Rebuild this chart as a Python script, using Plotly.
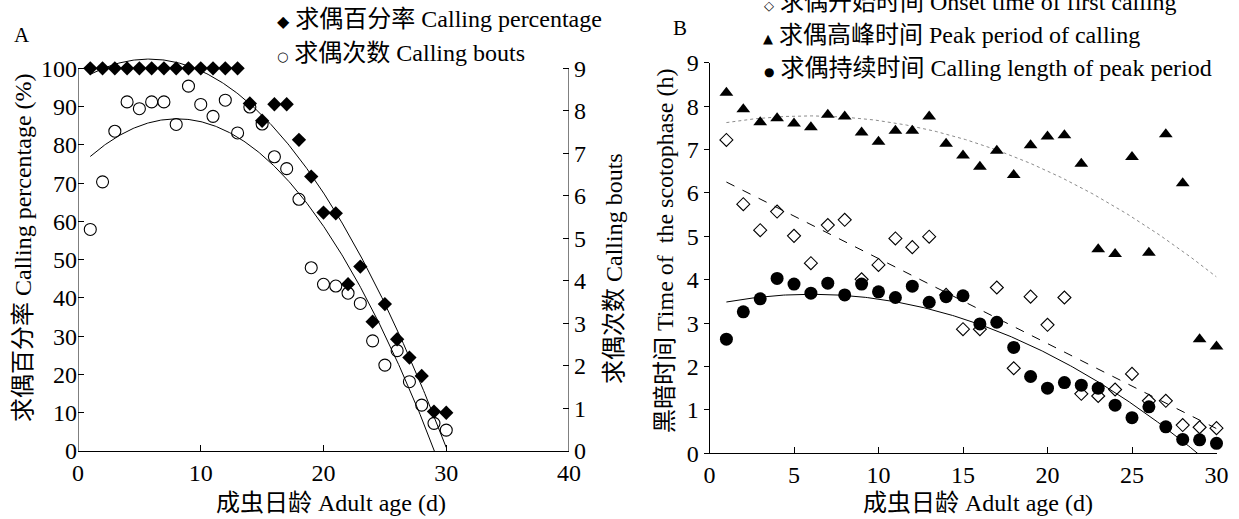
import numpy as np
import plotly.graph_objects as go

# ---------------- data ----------------
days = list(range(1, 31))

# Panel A
calling_pct = [100, 100, 100, 100, 100, 100, 100, 100, 100, 100, 100, 100, 100,
               90.8, 86.3, 90.6, 90.6, 81.3, 71.7, 62.3, 62.1, 43.6, 48.2, 33.8,
               38.4, 29.2, 24.4, 19.6, 10.3, 10.0]
calling_bouts = [5.21, 6.33, 7.52, 8.21, 8.05, 8.21, 8.21, 7.68, 8.58, 8.15,
                 7.87, 8.25, 7.48, 8.09, 7.69, 6.92, 6.64, 5.92, 4.31, 3.92,
                 3.88, 3.71, 3.47, 2.59, 2.02, 2.36, 1.63, 1.08, 0.65, 0.49]

# Panel B
onset_time = [7.22, 5.74, 5.14, 5.57, 5.01, 4.38, 5.26, 5.38, 4.01, 4.34,
              4.95, 4.75, 4.99, 3.65, 2.86, 2.86, 3.82, 1.96, 3.61, 2.96,
              3.59, 1.37, 1.32, 1.47, 1.83, 1.21, 1.21, 0.65, 0.60, 0.58]
peak_period = [8.31, 7.93, 7.63, 7.72, 7.60, 7.51, 7.80, 7.76, 7.39, 7.18,
               7.43, 7.43, 7.76, 7.13, 6.86, 6.60, 6.97, 6.41, 7.10, 7.30,
               7.33, 6.67, 4.70, 4.59, 6.83, 4.62, 7.35, 6.22, 2.63, 2.46]
calling_length = [2.63, 3.26, 3.56, 4.03, 3.90, 3.69, 3.92, 3.65, 3.90, 3.72,
                  3.59, 3.85, 3.48, 3.61, 3.63, 2.98, 3.02, 2.44, 1.77, 1.50,
                  1.63, 1.57, 1.50, 1.11, 0.82, 1.07, 0.61, 0.32, 0.31, 0.23]

xticks_A = [0, 10, 20, 30, 40]
yticks_A_left = [0, 10, 20, 30, 40, 50, 60, 70, 80, 90, 100]
yticks_A_right = [0, 1, 2, 3, 4, 5, 6, 7, 8, 9]
xticks_B = [0, 5, 10, 15, 20, 25, 30]
yticks_B = [0, 1, 2, 3, 4, 5, 6, 7, 8, 9]

# ---------------- trend lines (least-squares fits of the data) ----------------
def trend(x, y, deg):
    c = np.polyfit(x, y, deg)
    xs = np.linspace(min(x), max(x), 300)
    return xs, np.polyval(c, xs)

tA1x, tA1y = trend(days, calling_pct, 2)
tA2x, tA2y = trend(days, calling_bouts, 2)
tB1x, tB1y = trend(days, onset_time, 1)
tB2x, tB2y = trend(days, peak_period, 2)
tB3x, tB3y = trend(days, calling_length, 2)

W, H = 1239, 519
def fx(p):
    return p / W
def fy(p):
    return 1 - p / H

SERIF = "Liberation Serif, 'Times New Roman', 'Noto Sans CJK SC', serif"
FS = 24

fig = go.Figure()

# Panel A
fig.add_trace(go.Scatter(x=tA1x, y=tA1y, mode="lines", line=dict(color="black", width=1),
                         xaxis="x", yaxis="y", showlegend=False, hoverinfo="skip"))
fig.add_trace(go.Scatter(x=days, y=calling_pct, mode="markers", name="求偶百分率 Calling percentage",
                         marker=dict(symbol="diamond", size=11, color="black"),
                         xaxis="x", yaxis="y", cliponaxis=False, showlegend=False))
fig.add_trace(go.Scatter(x=tA2x, y=tA2y, mode="lines", line=dict(color="black", width=1),
                         xaxis="x", yaxis="y2", showlegend=False, hoverinfo="skip"))
fig.add_trace(go.Scatter(x=days, y=calling_bouts, mode="markers", name="求偶次数 Calling bouts",
                         marker=dict(symbol="circle-open", size=12, color="black", line=dict(width=1.1)),
                         xaxis="x", yaxis="y2", cliponaxis=False, showlegend=False))

# Panel B
fig.add_trace(go.Scatter(x=tB2x, y=tB2y, mode="lines", line=dict(color="#8a8a8a", width=1, dash="dot"),
                         xaxis="x2", yaxis="y3", showlegend=False, hoverinfo="skip"))
fig.add_trace(go.Scatter(x=tB1x, y=tB1y, mode="lines", line=dict(color="black", width=1, dash="dash"),
                         xaxis="x2", yaxis="y3", showlegend=False, hoverinfo="skip"))
fig.add_trace(go.Scatter(x=tB3x, y=tB3y, mode="lines", line=dict(color="black", width=1),
                         xaxis="x2", yaxis="y3", showlegend=False, hoverinfo="skip"))
fig.add_trace(go.Scatter(x=days, y=onset_time, mode="markers", name="求偶开始时间 Onset time of first calling",
                         marker=dict(symbol="diamond-open", size=10, color="black", line=dict(width=1.1)),
                         xaxis="x2", yaxis="y3", cliponaxis=False, showlegend=False))
fig.add_trace(go.Scatter(x=days, y=peak_period, mode="markers", name="求偶高峰时间 Peak period of calling",
                         marker=dict(symbol="triangle-up", size=12, color="black"),
                         xaxis="x2", yaxis="y3", cliponaxis=False, showlegend=False))
fig.add_trace(go.Scatter(x=days, y=calling_length, mode="markers", name="求偶持续时间 Calling length of peak period",
                         marker=dict(symbol="circle", size=13, color="black"),
                         xaxis="x2", yaxis="y3", cliponaxis=False, showlegend=False))

tickfont = dict(family=SERIF, size=FS, color="black")
common = dict(showgrid=False, zeroline=False, automargin=False, tickfont=tickfont,
              tickcolor="black", tickwidth=1, fixedrange=True)

A_y0, A_y100 = 451, 68.3
A_top = 103
A_ytop_px = A_y0 - (A_y0 - A_y100) * A_top / 100

fig.update_layout(
    width=W, height=H,
    margin=dict(l=0, r=0, t=0, b=0),
    paper_bgcolor="white", plot_bgcolor="white",
    showlegend=False,
    xaxis=dict(domain=[fx(78), fx(569)], range=[0, 40], tickvals=xticks_A, ticks="inside", ticklen=6,
               showline=True, linecolor="black", linewidth=1, anchor="y", **common),
    yaxis=dict(domain=[fy(A_y0), fy(A_ytop_px)], range=[0, A_top], tickvals=yticks_A_left,
               ticks="inside", ticklen=6, showline=False, anchor="x", **common),
    yaxis2=dict(domain=[fy(A_y0), fy(A_ytop_px)], range=[0, 9 * A_top / 100], tickvals=yticks_A_right,
                ticks="inside", ticklen=6, showline=False, overlaying="y", side="right", anchor="x",
                ticklabelstandoff=4, **common),
    xaxis2=dict(domain=[fx(709.5), fx(1216.5)], range=[0, 30], tickvals=xticks_B, ticks="inside", ticklen=6,
                showline=True, linecolor="black", linewidth=1, anchor="y3", **common),
    yaxis3=dict(domain=[fy(453.3), fy(62.7)], range=[0, 9], tickvals=yticks_B, ticks="outside", ticklen=5,
                showline=True, linecolor="black", linewidth=1, anchor="x2", **common),
)

# axis lines of panel A (only spanning 0-100 like the original)
fig.add_shape(type="line", xref="x", yref="y", x0=0, x1=0, y0=0, y1=100,
              line=dict(color="black", width=1), layer="above")
fig.add_shape(type="line", xref="x", yref="y", x0=40, x1=40, y0=0, y1=100,
              line=dict(color="black", width=1), layer="above")

def ann(text, x, y, size=FS, angle=0, xanchor="center", yanchor="middle"):
    fig.add_annotation(text=text, x=fx(x), y=fy(y), xref="paper", yref="paper",
                       showarrow=False, textangle=angle, xanchor=xanchor, yanchor=yanchor,
                       font=dict(family=SERIF, size=size, color="black"))

# panel labels
ann("A", 22, 35, size=21)
ann("B", 680, 28, size=21)

# axis titles
ann("求偶百分率 Calling percentage (%)", 23, 248, angle=-90)
ann("求偶次数 Calling bouts", 614, 269, angle=-90)
ann("成虫日龄 Adult age (d)", 331, 503)
ann("黑暗时间 Time of&nbsp; the scotophase (h)", 665, 251, angle=-90)
ann("成虫日龄 Adult age (d)", 978, 503)

# legends
def sym(ch, size):
    return "<span style='font-family:DejaVu Sans;font-size:%dpx'>%s</span>" % (size, ch)

ann(sym("◆", 16) + " 求偶百分率 Calling percentage", 275, 19, xanchor="left")
ann(sym("○", 13) + " 求偶次数 Calling bouts", 275, 53, xanchor="left")
ann(sym("◇", 13) + " 求偶开始时间 Onset time of first calling", 762, 2, xanchor="left")
ann(sym("▲", 13) + " 求偶高峰时间 Peak period of calling", 761, 35, xanchor="left")
ann(sym("●", 12) + " 求偶持续时间 Calling length of peak period", 762, 68, xanchor="left")

fig.write_html("out.html")
